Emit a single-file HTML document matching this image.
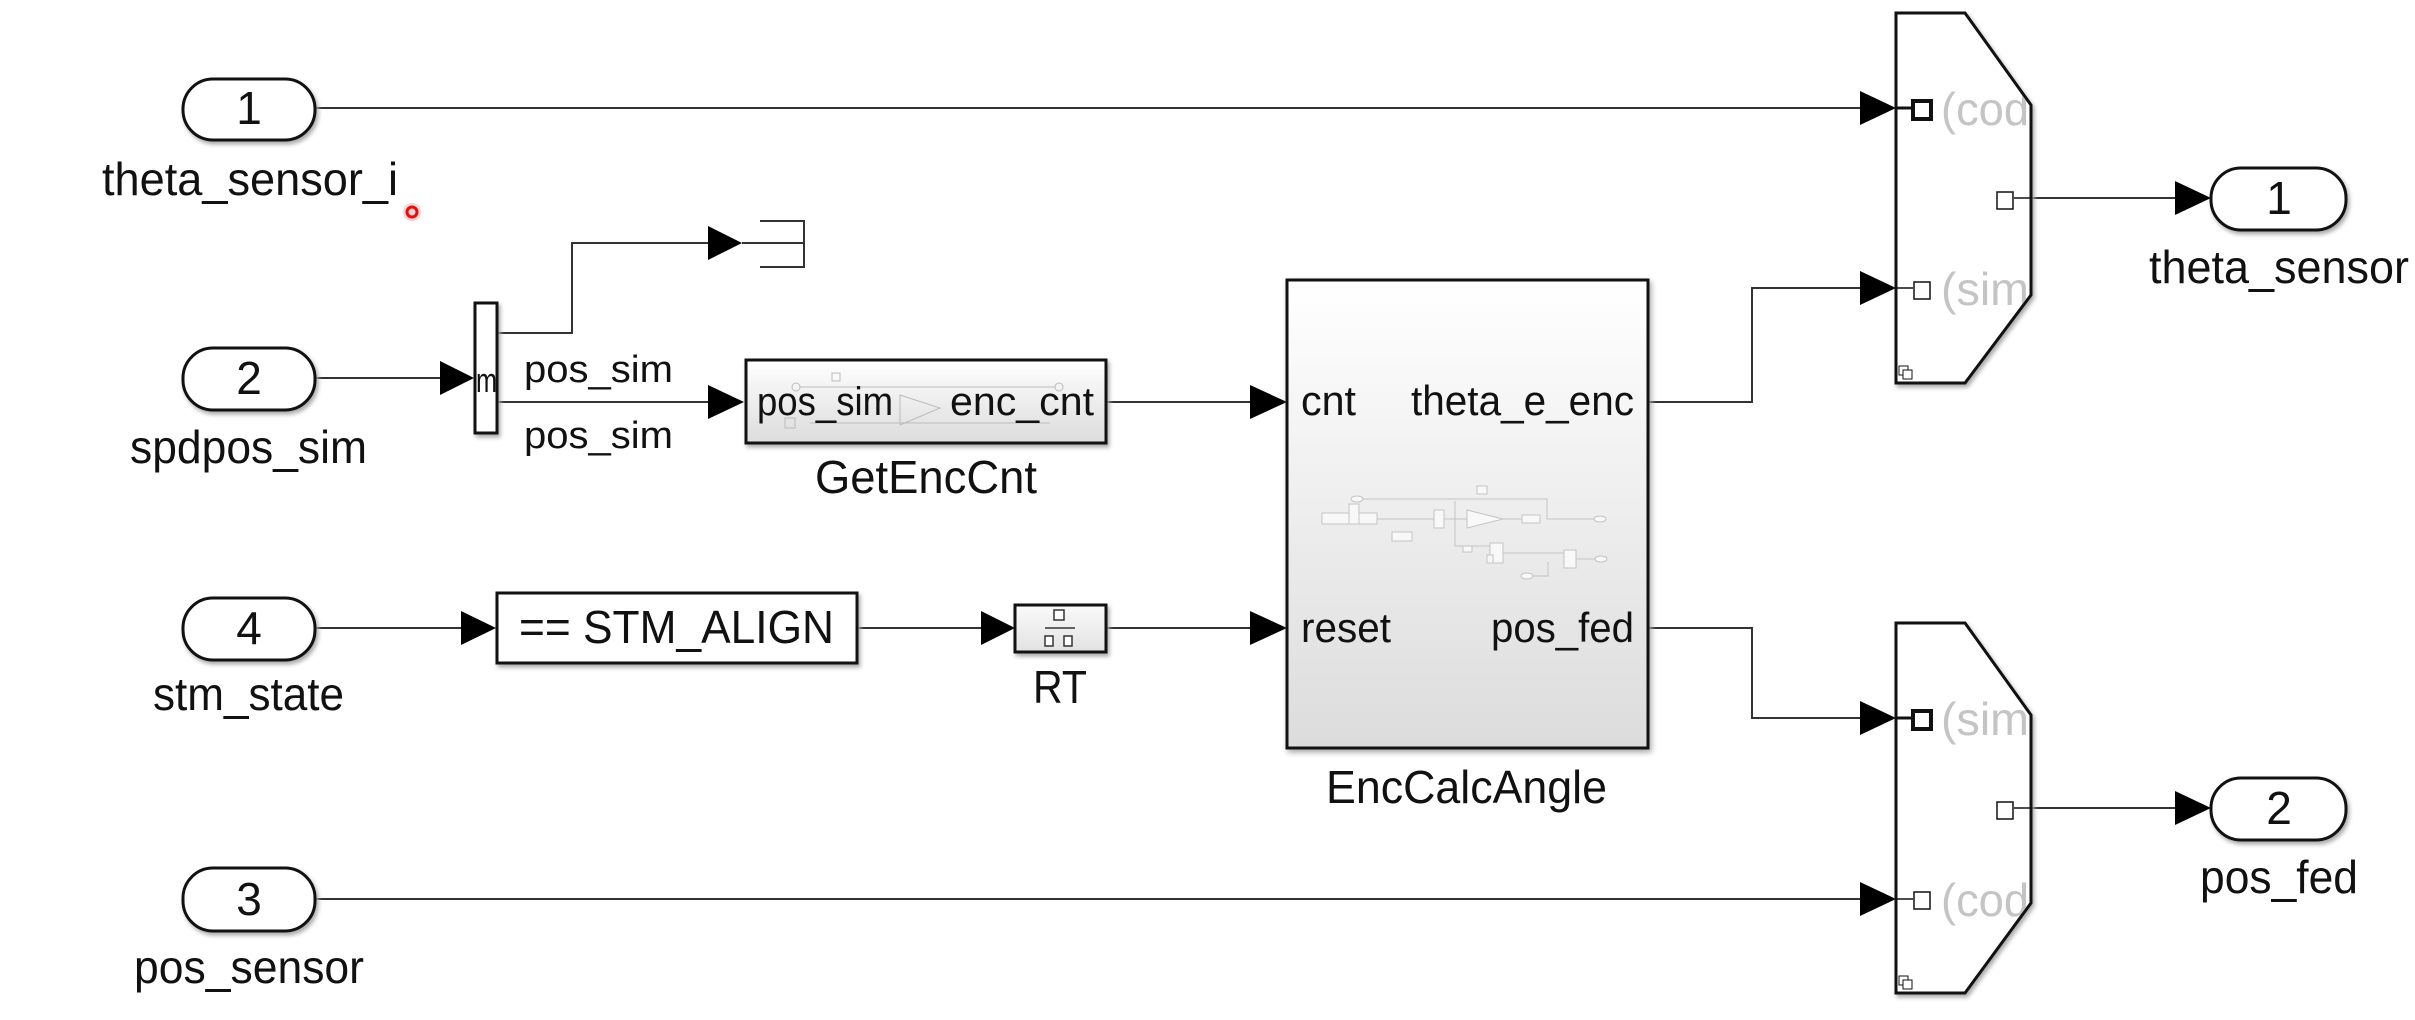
<!DOCTYPE html>
<html><head><meta charset="utf-8"><style>
html,body{margin:0;padding:0;background:#fff;}
svg{display:block;}
text{font-family:"Liberation Sans",Arial,sans-serif;fill:#111;}
</style></head><body>
<svg width="2415" height="1020" viewBox="0 0 2415 1020" xmlns="http://www.w3.org/2000/svg">
<defs>
<linearGradient id="g1" x1="0" y1="0" x2="0" y2="1"><stop offset="0" stop-color="#ffffff"/><stop offset="1" stop-color="#dcdcdc"/></linearGradient>
<linearGradient id="g2" x1="0" y1="0" x2="0" y2="1"><stop offset="0" stop-color="#fafafa"/><stop offset="1" stop-color="#e2e2e2"/></linearGradient>
<clipPath id="c1"><polygon points="1896,13 1965,13 2029,105 2029,295 1965,383 1896,383"/></clipPath>
<clipPath id="c2"><polygon points="1896,623 1965,623 2029,715 2029,903 1965,993 1896,993"/></clipPath>
</defs>
<g stroke="#333" stroke-width="2" fill="none">
<polyline points="315,108 1860,108"/>
<polyline points="315,378 440,378"/>
<polyline points="497,333 572,333 572,243 708,243"/>
<polyline points="497,402 708,402"/>
<polyline points="1106,402 1250,402"/>
<polyline points="1648,402 1752,402 1752,288 1860,288"/>
<polyline points="315,628 461,628"/>
<polyline points="857,628 981,628"/>
<polyline points="1106,628 1250,628"/>
<polyline points="1648,628 1752,628 1752,718 1860,718"/>
<polyline points="315,899 1860,899"/>
<polyline points="2014,198 2175,198"/>
<polyline points="2014,808 2175,808"/>
<polyline points="742,243 804,243"/>
</g>
<g fill="#000">
<polygon points="1860,91 1896,108 1860,125"/>
<polygon points="1860,271 1896,288 1860,305"/>
<polygon points="1860,701 1896,718 1860,735"/>
<polygon points="1860,882 1896,899 1860,916"/>
<polygon points="440,361 474,378 440,395"/>
<polygon points="708,226 742,243 708,260"/>
<polygon points="708,385 744,402 708,419"/>
<polygon points="1250,385 1287,402 1250,419"/>
<polygon points="1250,611 1287,628 1250,645"/>
<polygon points="461,611 496,628 461,645"/>
<polygon points="981,611 1015,628 981,645"/>
<polygon points="2175,181 2211,198 2175,215"/>
<polygon points="2175,791 2211,808 2175,825"/>
</g>
<g stroke="#111" stroke-width="3" fill="#fff">
<rect x="183" y="79" width="132" height="61" rx="30" ry="30" style="filter:drop-shadow(2px 3px 2px #aaa)"/>
<rect x="183" y="348" width="132" height="62" rx="30" ry="30" style="filter:drop-shadow(2px 3px 2px #aaa)"/>
<rect x="183" y="598" width="132" height="62" rx="30" ry="30" style="filter:drop-shadow(2px 3px 2px #aaa)"/>
<rect x="183" y="868" width="132" height="63" rx="30" ry="30" style="filter:drop-shadow(2px 3px 2px #aaa)"/>
<rect x="2211" y="168" width="135" height="62" rx="30" ry="30" style="filter:drop-shadow(2px 3px 2px #aaa)"/>
<rect x="2211" y="778" width="135" height="62" rx="30" ry="30" style="filter:drop-shadow(2px 3px 2px #aaa)"/>
</g>
<g font-size="46" text-anchor="middle">
<text x="249" y="124">1</text>
<text x="249" y="394">2</text>
<text x="249" y="644">4</text>
<text x="249" y="915">3</text>
<text x="2279" y="214">1</text>
<text x="2279" y="824">2</text>
</g>
<g font-size="46">
<text x="102" y="195" textLength="296" lengthAdjust="spacingAndGlyphs">theta_sensor_i</text>
<text x="130" y="463" textLength="237" lengthAdjust="spacingAndGlyphs">spdpos_sim</text>
<text x="153" y="710" textLength="191" lengthAdjust="spacingAndGlyphs">stm_state</text>
<text x="134" y="983" textLength="230" lengthAdjust="spacingAndGlyphs">pos_sensor</text>
<text x="2149" y="283" textLength="260" lengthAdjust="spacingAndGlyphs">theta_sensor</text>
<text x="2200" y="893" textLength="158" lengthAdjust="spacingAndGlyphs">pos_fed</text>
<text x="815" y="493" textLength="222" lengthAdjust="spacingAndGlyphs">GetEncCnt</text>
<text x="1033" y="703" textLength="54" lengthAdjust="spacingAndGlyphs">RT</text>
<text x="1326" y="803" textLength="281" lengthAdjust="spacingAndGlyphs">EncCalcAngle</text>
</g>
<circle cx="412" cy="212" r="9" fill="#f6b0b0" opacity="0.6"/>
<circle cx="412" cy="212" r="5" fill="none" stroke="#e01010" stroke-width="3"/>
<rect x="475" y="303" width="22" height="130" fill="#fff" stroke="#111" stroke-width="3" style="filter:drop-shadow(2px 3px 2px #aaa)"/>
<text x="476" y="392" font-size="34" textLength="21" lengthAdjust="spacingAndGlyphs">m</text>
<g font-size="38">
<text x="524" y="382" textLength="149" lengthAdjust="spacingAndGlyphs">pos_sim</text>
<text x="524" y="448" textLength="149" lengthAdjust="spacingAndGlyphs">pos_sim</text>
</g>
<polyline points="760,221 804,221 804,267 760,267" fill="none" stroke="#333" stroke-width="2"/>
<rect x="746" y="360" width="360" height="83" fill="url(#g1)" stroke="#111" stroke-width="3" style="filter:drop-shadow(2px 3px 2px #aaa)"/>
<g stroke="#bbb" stroke-width="1" fill="none">
<rect x="792" y="383" width="8" height="8" rx="4"/><rect x="1055" y="383" width="8" height="8" rx="4"/>
<line x1="800" y1="387" x2="1055" y2="387"/><line x1="810" y1="423" x2="1050" y2="423"/>
<rect x="832" y="373" width="8" height="8"/><rect x="785" y="418" width="10" height="10"/>
<polygon points="900,395 940,408 900,425"/>
</g>
<g font-size="40">
<text x="757" y="415" textLength="136" lengthAdjust="spacingAndGlyphs">pos_sim</text>
<text x="950" y="415" textLength="144" lengthAdjust="spacingAndGlyphs">enc_cnt</text>
</g>
<rect x="497" y="593" width="360" height="70" fill="#fff" stroke="#111" stroke-width="3" style="filter:drop-shadow(2px 3px 2px #aaa)"/>
<text x="519" y="643" font-size="46" textLength="315" lengthAdjust="spacingAndGlyphs">== STM_ALIGN</text>
<rect x="1015" y="605" width="91" height="47" fill="url(#g2)" stroke="#111" stroke-width="3" style="filter:drop-shadow(2px 3px 2px #aaa)"/>
<g stroke="#333" stroke-width="1.5" fill="#fff">
<rect x="1054" y="610" width="10" height="10"/>
<line x1="1045" y1="628" x2="1075" y2="628"/>
<rect x="1045" y="636" width="8" height="10"/><rect x="1064" y="636" width="8" height="10"/>
</g>
<rect x="1287" y="280" width="361" height="468" fill="url(#g1)" stroke="#111" stroke-width="3" style="filter:drop-shadow(2px 3px 3px #aaa)"/>
<g stroke="#c4c4c4" stroke-width="1" fill="#f8f8f8">
<rect x="1322" y="513" width="55" height="11"/>
<rect x="1349" y="504" width="10" height="20"/>
<rect x="1434" y="510" width="10" height="18"/>
<rect x="1392" y="532" width="20" height="9"/>
<polygon points="1467,510 1503,519 1467,528"/>
<rect x="1522" y="515" width="18" height="8"/>
<rect x="1477" y="486" width="10" height="8"/>
<rect x="1463" y="546" width="9" height="6"/>
<rect x="1490" y="543" width="13" height="20"/>
<rect x="1564" y="550" width="12" height="18"/>
<rect x="1487" y="555" width="6" height="8"/>
<ellipse cx="1357" cy="499" rx="6" ry="3"/><ellipse cx="1600" cy="519" rx="6" ry="3"/>
<ellipse cx="1601" cy="559" rx="6" ry="3"/><ellipse cx="1527" cy="576" rx="6" ry="3"/>
</g>
<g stroke="#c4c4c4" stroke-width="1" fill="none">
<polyline points="1363,499 1547,499 1547,519 1594,519"/>
<polyline points="1377,519 1434,519"/><polyline points="1444,519 1467,519"/><polyline points="1503,519 1522,519"/>
<polyline points="1455,501 1455,546 1463,546"/><polyline points="1472,546 1490,546"/>
<polyline points="1503,553 1564,553"/><polyline points="1576,559 1595,559"/>
<polyline points="1533,576 1548,576 1548,562"/>
</g>
<g font-size="42">
<text x="1301" y="415" textLength="55" lengthAdjust="spacingAndGlyphs">cnt</text>
<text x="1411" y="415" textLength="223" lengthAdjust="spacingAndGlyphs">theta_e_enc</text>
<text x="1301" y="642" textLength="90" lengthAdjust="spacingAndGlyphs">reset</text>
<text x="1491" y="642" textLength="143" lengthAdjust="spacingAndGlyphs">pos_fed</text>
</g>
<g fill="#fff" stroke="#111" stroke-width="3" style="filter:drop-shadow(2px 3px 2px #aaa)">
<polygon points="1896,13 1965,13 2031,105 2031,295 1965,383 1896,383"/>
<polygon points="1896,623 1965,623 2031,715 2031,903 1965,993 1896,993"/>
</g>
<g font-size="46">
<g clip-path="url(#c1)">
<text x="1941" y="125" style="fill:#c4c4c4" textLength="88" lengthAdjust="spacingAndGlyphs">(cod</text>
<text x="1941" y="305" style="fill:#c4c4c4" textLength="88" lengthAdjust="spacingAndGlyphs">(sim</text>
</g>
<g clip-path="url(#c2)">
<text x="1941" y="735" style="fill:#c4c4c4" textLength="88" lengthAdjust="spacingAndGlyphs">(sim</text>
<text x="1941" y="916" style="fill:#c4c4c4" textLength="88" lengthAdjust="spacingAndGlyphs">(cod</text>
</g>
</g>
<g stroke="#111" fill="#fff">
<line x1="1896" y1="108" x2="1913" y2="108" stroke-width="3"/>
<rect x="1913" y="101" width="18" height="18" stroke-width="4"/>
<line x1="1896" y1="288" x2="1913" y2="288" stroke-width="1.5"/>
<rect x="1914" y="282" width="16" height="17" stroke-width="1.5"/>
<line x1="2014" y1="198" x2="2031" y2="198" stroke-width="1.5"/>
<rect x="1997" y="192" width="16" height="17" stroke-width="1.5"/>
<line x1="1896" y1="718" x2="1913" y2="718" stroke-width="3"/>
<rect x="1913" y="711" width="18" height="18" stroke-width="4"/>
<line x1="1896" y1="899" x2="1913" y2="899" stroke-width="1.5"/>
<rect x="1914" y="892" width="16" height="17" stroke-width="1.5"/>
<line x1="2014" y1="808" x2="2031" y2="808" stroke-width="1.5"/>
<rect x="1997" y="802" width="16" height="17" stroke-width="1.5"/>
<rect x="1899" y="366" width="9" height="9" stroke-width="1"/><rect x="1903" y="370" width="9" height="9" stroke-width="1"/>
<rect x="1899" y="976" width="9" height="9" stroke-width="1"/><rect x="1903" y="980" width="9" height="9" stroke-width="1"/>
</g>
</svg>
</body></html>
